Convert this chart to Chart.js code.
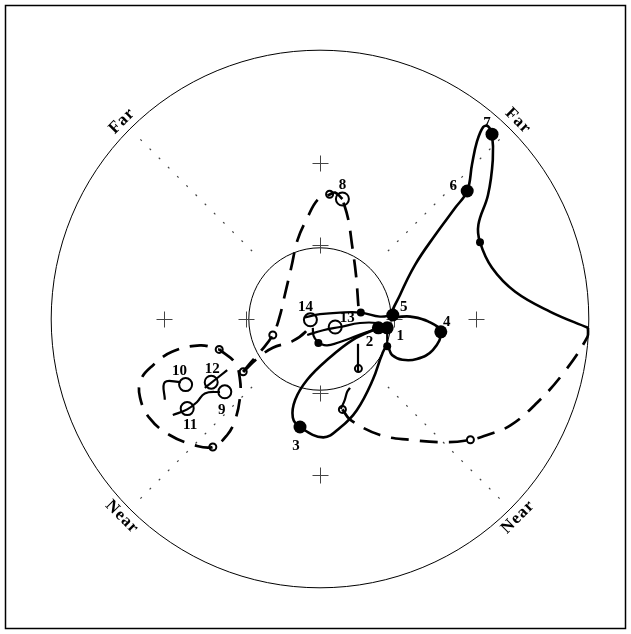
<!DOCTYPE html>
<html>
<head>
<meta charset="utf-8">
<script src="https://cdn.jsdelivr.net/npm/chart.js@4/dist/chart.umd.min.js"></script>
<style>
  html, body { margin: 0; padding: 0; background: #fff; }
  canvas { display: block; }
</style>
</head>
<body>
<canvas id="c" width="631" height="634"></canvas>
<script>
// Polar field plot: positions in plot units from the fixation centre (0,0).

// Reference rings and grid marks
const ringRadii = [8.9, 33.6];
const crossTicks = [-19.5, -9.2, 9.2, 19.5];
const diagonalSpan = [12, 32.7];
const zoneLabels = ['Far', 'Far', 'Near', 'Near'];
const zoneAngles = [135, 45, 225, 315];
const zoneRadius = 35;

// Filled-marker trajectory (solid line), samples 1-7
const solidNumbers = ['1', '2', '3', '4', '5', '6', '7'];
const solidSamples = [[8.4, -1.1], [7.3, -1.1], [-2.5, -13.5], [15.1, -1.6], [9.1, 0.5], [18.4, 16.0], [21.5, 23.1]];
const solidSmall = [[20.0, 9.6], [5.1, 0.8], [-0.2, -3.0], [8.4, -3.4]];
const solidPath = [
  [7.3, -1.1], [4.1, -2.6], [0.9, -5.1], [-1.6, -7.6], [-3.1, -10.1], [-3.4, -12.3], [-2.5, -13.5],
  [0.4, -14.8], [2.5, -13.6], [4.6, -11.4], [6.6, -7.6], [7.8, -4.3], [8.4, -3.4],
  [9.0, -4.5], [10.3, -5.1], [12.1, -5.0], [14.1, -3.9], [15.1, -1.6], [13.5, -0.3], [11.3, 0.3], [9.1, 0.5],
  [10.0, 3.0], [11.9, 6.8], [14.4, 10.5], [16.9, 13.9], [18.4, 16.0], [19.0, 19.3], [19.6, 22.1],
  [20.4, 24.0], [21.0, 24.1], [21.5, 23.1], [21.6, 19.9], [21.0, 15.5], [19.8, 11.8], [20.0, 9.6],
  [21.5, 6.4], [24.4, 3.4], [28.8, 0.9], [33.5, -1.1]
];
const solidLinks = [
  [[8.4, -3.4], [8.4, -1.1]],
  [[7.3, -1.1], [8.4, -1.1]],
  [[-0.2, -3.0], [0.9, -3.3], [3.8, -2.4], [6.6, -1.4], [8.4, -1.1]],
  [[-1.6, -2.0], [0.4, -1.4], [2.5, -1.0], [5.0, -0.5], [7.1, -0.5], [8.4, -1.0]],
  [[-1.9, 0.2], [0.0, 0.6], [2.5, 0.8], [5.1, 0.8], [7.5, 0.3], [9.1, 0.5]],
  [[-0.2, -3.0], [-0.8, -2.1], [-0.9, -1.1]],
  [[4.75, -3.1], [4.75, -6.6]],
  [[2.6, -11.25], [3.1, -10.1], [3.4, -9.1], [3.75, -8.6]],
  [[-19.4, -10.1], [-19.4, -7.9], [-17.4, -7.9]],
  [[-18.4, -12.0], [-16.6, -11.3], [-15.4, -10.4], [-14.4, -9.3], [-12.5, -9.1]],
  [[-14.4, -8.6], [-11.6, -6.4]]
];

// Open-marker trajectory (dashed line), samples 8-14
const openNumbers = ['8', '9', '10', '11', '12', '13', '14'];
const openSamples = [[2.8, 15.0], [-11.9, -9.1], [-16.8, -8.2], [-16.6, -11.2], [-13.6, -7.9], [1.9, -1.0], [-1.2, -0.1]];
const openSmall = [[1.2, 15.6], [-5.9, -2.0], [-9.6, -6.6], [-12.6, -3.8], [-13.4, -16.0], [18.8, -15.1], [4.8, -6.2], [2.8, -11.3]];
const dashedPaths = [
  [[4.8, 1.6], [4.5, 5.5], [4.0, 9.3], [3.5, 12.6], [2.8, 15.0]],
  [[2.8, 15.0], [1.9, 15.8], [1.1, 15.5], [-0.3, 14.9], [-1.6, 12.6], [-2.8, 9.9], [-3.6, 6.4], [-4.4, 3.0],
   [-5.1, 0.1], [-5.9, -2.0], [-7.3, -3.9], [-8.8, -5.6], [-9.6, -6.6]],
  [[-12.6, -3.8], [-10.6, -5.5], [-10.0, -7.6], [-10.0, -9.8], [-10.6, -12.6], [-11.6, -14.5], [-13.4, -16.0],
   [-15.6, -15.8], [-18.8, -14.5], [-21.3, -12.4], [-22.5, -9.8], [-22.4, -7.6], [-20.9, -5.8], [-18.5, -4.1],
   [-15.0, -3.3], [-12.6, -3.8]],
  [[-9.6, -6.6], [-7.8, -4.9], [-5.9, -3.6], [-3.5, -2.8], [-1.8, -1.6], [-1.2, -0.4]],
  [[33.5, -1.1], [33.4, -2.3], [30.4, -6.8], [27.1, -10.5], [23.8, -13.3], [20.9, -14.5], [18.8, -15.1],
   [15.9, -15.4], [11.3, -15.1], [7.5, -14.5], [3.8, -12.6], [2.8, -11.3]]
];

// Pixel offsets of the sample numbers from their markers
const solidNumberOffsets = [[13, 8], [-9, 14], [-4, 19], [6, -10], [11, -8], [-14, -5], [-5, -11]];
const openNumberOffsets = [[0, -14], [-3, 18], [-6, -13], [3, 17], [1, -13], [12, -9], [-5, -13]];

const toXY = arr => arr.map(([x, y]) => ({ x, y }));

function lineSet(points, dashed, width) {
  return {
    data: toXY(points),
    showLine: true,
    borderColor: '#000',
    borderWidth: width,
    borderDash: dashed ? [18, 11] : [],
    borderCapStyle: 'butt',
    pointRadius: 0,
    pointHoverRadius: 0,
    tension: 0.4,
    fill: false,
    order: 1
  };
}

function markerSet(points, radius, filled) {
  return {
    data: toXY(points),
    showLine: false,
    pointRadius: radius,
    pointHoverRadius: radius,
    pointBackgroundColor: filled ? '#000' : 'rgba(0,0,0,0)',
    pointBorderColor: '#000',
    pointBorderWidth: filled ? 0 : 2,
    order: 0
  };
}

const datasets = [
  markerSet(solidSamples, 6.5, true),
  markerSet(solidSmall, 4, true),
  markerSet(openSamples, 6.5, false),
  markerSet(openSmall, 3.5, false),
  lineSet(solidPath, false, 2.6),
  ...solidLinks.map(p => lineSet(p, false, 2.2)),
  ...dashedPaths.map(p => lineSet(p, true, 2.7))
];

const fieldBackdrop = {
  id: 'fieldBackdrop',
  beforeDatasetsDraw(chart) {
    const { ctx, scales: { x, y } } = chart;
    const px = v => x.getPixelForValue(v);
    const py = v => y.getPixelForValue(v);
    const unit = px(1) - px(0);
    const cx = px(0), cy = py(0);
    ctx.save();

    // frame
    ctx.strokeStyle = '#000';
    ctx.lineWidth = 1.5;
    ctx.strokeRect(5.5, 5.5, 620, 623);

    // rings
    ctx.lineWidth = 1;
    ringRadii.forEach(r => {
      ctx.beginPath();
      ctx.arc(cx, cy, r * unit, 0, Math.PI * 2);
      ctx.stroke();
    });

    // dotted diagonals
    ctx.strokeStyle = '#444';
    ctx.lineWidth = 1.2;
    ctx.setLineDash([2, 11]);
    [45, 135, 225, 315].forEach(a => {
      const c = Math.cos(a * Math.PI / 180), s = Math.sin(a * Math.PI / 180);
      ctx.beginPath();
      ctx.moveTo(px(diagonalSpan[0] * c), py(diagonalSpan[0] * s));
      ctx.lineTo(px(diagonalSpan[1] * c), py(diagonalSpan[1] * s));
      ctx.stroke();
    });
    ctx.setLineDash([]);

    // crosses on the axes
    ctx.strokeStyle = '#444';
    ctx.lineWidth = 1;
    const arm = 8;
    const cross = (X, Y) => {
      ctx.beginPath();
      ctx.moveTo(X - arm, Y); ctx.lineTo(X + arm, Y);
      ctx.moveTo(X, Y - arm); ctx.lineTo(X, Y + arm);
      ctx.stroke();
    };
    crossTicks.forEach(t => {
      cross(Math.round(px(t)) + 0.5, Math.round(py(0)) + 0.5);
      cross(Math.round(px(0)) + 0.5, Math.round(py(t)) + 0.5);
    });

    // zone labels
    ctx.fillStyle = '#000';
    ctx.font = 'bold 17px "Liberation Serif", "DejaVu Serif", serif';
    ctx.textAlign = 'center';
    ctx.textBaseline = 'middle';
    if ('letterSpacing' in ctx) ctx.letterSpacing = '1px';
    zoneLabels.forEach((txt, i) => {
      const a = zoneAngles[i];
      const rad = a * Math.PI / 180;
      const rot = (a < 180 ? 90 - a : 270 - a) * Math.PI / 180;
      ctx.save();
      ctx.translate(px(zoneRadius * Math.cos(rad)), py(zoneRadius * Math.sin(rad)));
      ctx.rotate(rot);
      ctx.fillText(txt, 0, 0);
      ctx.restore();
    });
    ctx.restore();
  },
  afterDatasetsDraw(chart) {
    const { ctx, scales: { x, y } } = chart;
    ctx.save();
    ctx.fillStyle = '#000';
    ctx.font = 'bold 15px "Liberation Serif", "DejaVu Serif", serif';
    ctx.textAlign = 'center';
    ctx.textBaseline = 'middle';
    const put = (nums, pts, offs) => nums.forEach((n, i) => {
      ctx.fillText(n, x.getPixelForValue(pts[i][0]) + offs[i][0], y.getPixelForValue(pts[i][1]) + offs[i][1]);
    });
    put(solidNumbers, solidSamples, solidNumberOffsets);
    put(openNumbers, openSamples, openNumberOffsets);
    ctx.restore();
  }
};

new Chart(document.getElementById('c'), {
  type: 'scatter',
  data: { datasets },
  options: {
    responsive: false,
    devicePixelRatio: 1,
    animation: false,
    events: [],
    layout: { padding: 0, autoPadding: false },
    plugins: { legend: { display: false }, tooltip: { enabled: false } },
    scales: {
      x: { type: 'linear', display: false, min: -40, max: 38.875 },
      y: { type: 'linear', display: false, min: -39.375, max: 39.875 }
    }
  },
  plugins: [fieldBackdrop]
});
</script>
</body>
</html>
